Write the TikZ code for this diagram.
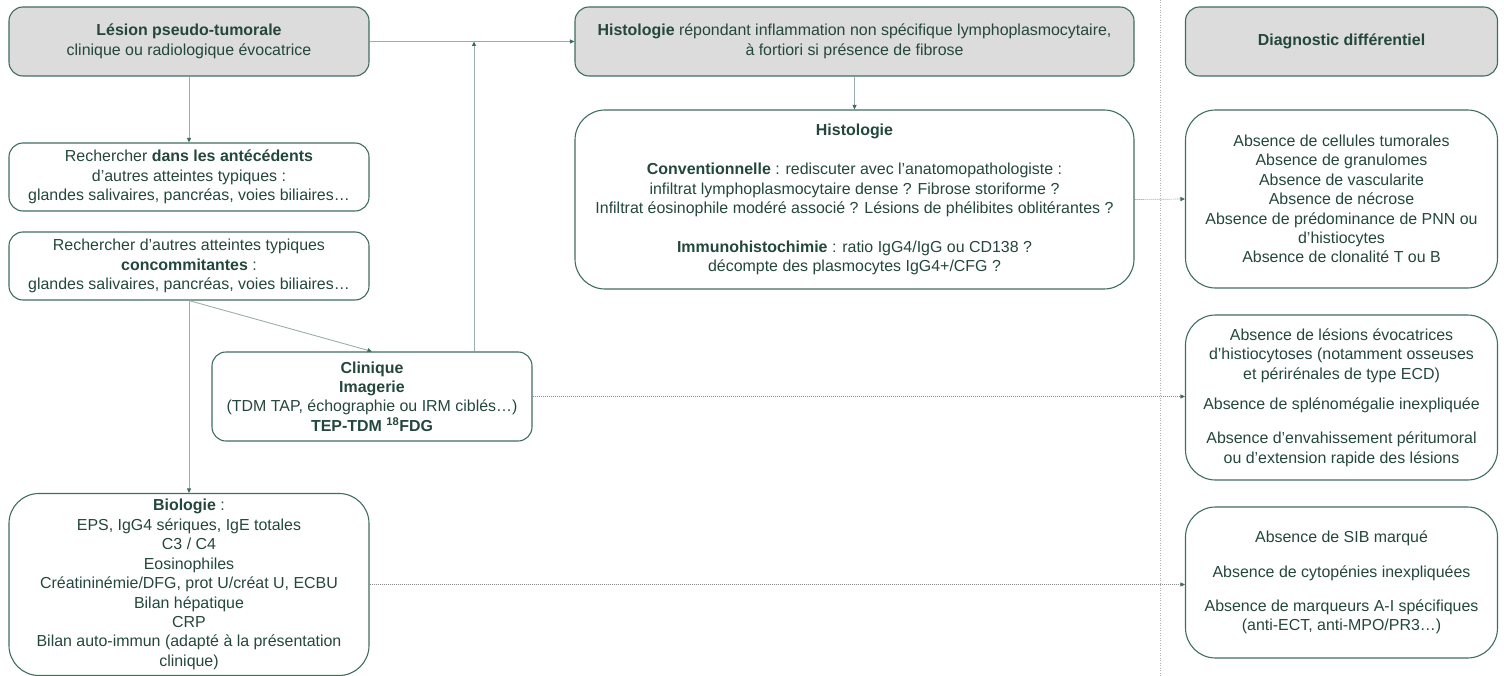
\documentclass[tikz,border=0pt]{standalone}
\usepackage{fontspec}
\setmainfont{Liberation Sans}
\usetikzlibrary{arrows.meta}

\definecolor{boxgreen}{HTML}{3F6E5B}
\definecolor{txtgreen}{HTML}{23473A}
\definecolor{headgray}{HTML}{DCDCDC}
\definecolor{linkgray}{HTML}{9AB0A5}
\definecolor{dotgray}{HTML}{8C8C8C}

\begin{document}
\begin{tikzpicture}[x=1bp, y=-1bp,
	box/.style={draw=boxgreen, line width=1.1bp, rounded corners=14bp, align=center,
		text=txtgreen, inner sep=0pt, font=\fontsize{16}{19.5}\selectfont},
	bigbox/.style={box, rounded corners=30bp},
	headbox/.style={box, fill=headgray},
	link/.style={draw=linkgray, line width=0.9bp, -{Triangle[length=4.5bp,width=4bp,color=boxgreen]}},
	dotlink/.style={draw=dotgray, line width=0.7bp, dash pattern=on 1bp off 1bp,
		-{Triangle[length=4.5bp,width=4bp,color=boxgreen]}}]
	\useasboundingbox (0,0) rectangle (1504,676);

	\draw [draw=black!30, line width=1bp, dash pattern=on 1bp off 1.5bp] (1160,0) -- (1160,676);

	\node [headbox, minimum width=360bp, minimum height=69bp] (lesion) at (189,41.5)
		{\textbf{Lésion pseudo-tumorale}\\clinique ou radiologique évocatrice};
	\node [box, minimum width=360bp, minimum height=68bp] (atcd) at (189,177)
		{Rechercher \textbf{dans les antécédents}\\d’autres atteintes typiques :\\glandes salivaires, pancréas, voies biliaires…};
	\node [box, minimum width=360bp, minimum height=68bp] (concom) at (189,266)
		{Rechercher d’autres atteintes typiques\\\textbf{concommitantes} :\\glandes salivaires, pancréas, voies biliaires…};
	\node [box, minimum width=320bp, minimum height=89bp] (imagerie) at (372,396.5)
		{\textbf{Clinique}\\\textbf{Imagerie}\\(TDM TAP, échographie ou IRM ciblés…)\\\textbf{TEP-TDM \textsuperscript{18}FDG}};
	\node [bigbox, minimum width=360bp, minimum height=182bp] (bio) at (189,584.5)
		{\textbf{Biologie} :\\EPS, IgG4 sériques, IgE totales\\C3 / C4\\Eosinophiles\\Créatininémie/DFG, prot U/créat U, ECBU\\Bilan hépatique\\CRP\\Bilan auto-immun (adapté à la présentation\\clinique)};

	\node [headbox, minimum width=559bp, minimum height=69bp] (histo) at (854.5,41.5)
		{\textbf{Histologie} répondant inflammation non spécifique lymphoplasmocytaire,\\à fortiori si présence de fibrose};
	\node [bigbox, minimum width=559bp, minimum height=179bp] (histodet) at (854.5,199.5)
		{\textbf{Histologie}\\[20bp]
		\textbf{Conventionnelle} : rediscuter avec l’anatomopathologiste :\\infiltrat lymphoplasmocytaire dense ? Fibrose storiforme ?\\Infiltrat éosinophile modéré associé ? Lésions de phélibites oblitérantes ?\\[19bp]
		\textbf{Immunohistochimie} : ratio IgG4/IgG ou CD138 ?\\décompte des plasmocytes IgG4+/CFG ?};

	\node [headbox, minimum width=312bp, minimum height=69bp] (diag) at (1341.5,41.5)
		{\textbf{Diagnostic différentiel}};
	\node [bigbox, minimum width=312bp, minimum height=178bp] (diaghisto) at (1341.5,199)
		{Absence de cellules tumorales\\Absence de granulomes\\Absence de vascularite\\Absence de nécrose\\Absence de prédominance de PNN ou\\d’histiocytes\\Absence de clonalité T ou B};
	\node [bigbox, minimum width=312bp, minimum height=165bp] (diagimag) at (1341.5,397.5)
		{Absence de lésions évocatrices\\d’histiocytoses (notamment osseuses\\et périrénales de type ECD)\\[11bp]
		Absence de splénomégalie inexpliquée\\[15bp]
		Absence d’envahissement péritumoral\\ou d’extension rapide des lésions};
	\node [bigbox, minimum width=312bp, minimum height=151bp] (diagbio) at (1341.5,582.5)
		{Absence de SIB marqué\\[15bp]
		Absence de cytopénies inexpliquées\\[15bp]
		Absence de marqueurs A-I spécifiques\\(anti-ECT, anti-MPO/PR3…)};

	\coordinate (join) at (474,41.5);

	\draw [link] (lesion) -- (atcd);
	\draw [link] (lesion) -- (histo);
	\draw [link] (imagerie.north -| join) -- (join);
	\draw [link] (concom.south) -- (bio.north);
	\draw [link] (concom.south) -- (imagerie.north);
	\draw [link] (histo) -- (histodet);

	\draw [dotlink] (histodet.east) -- (diaghisto.west);
	\draw [dotlink] (imagerie.east) -- (imagerie.east -| diagimag.west);
	\draw [dotlink] (bio.east) -- (bio.east -| diagbio.west);
\end{tikzpicture}
\end{document}
